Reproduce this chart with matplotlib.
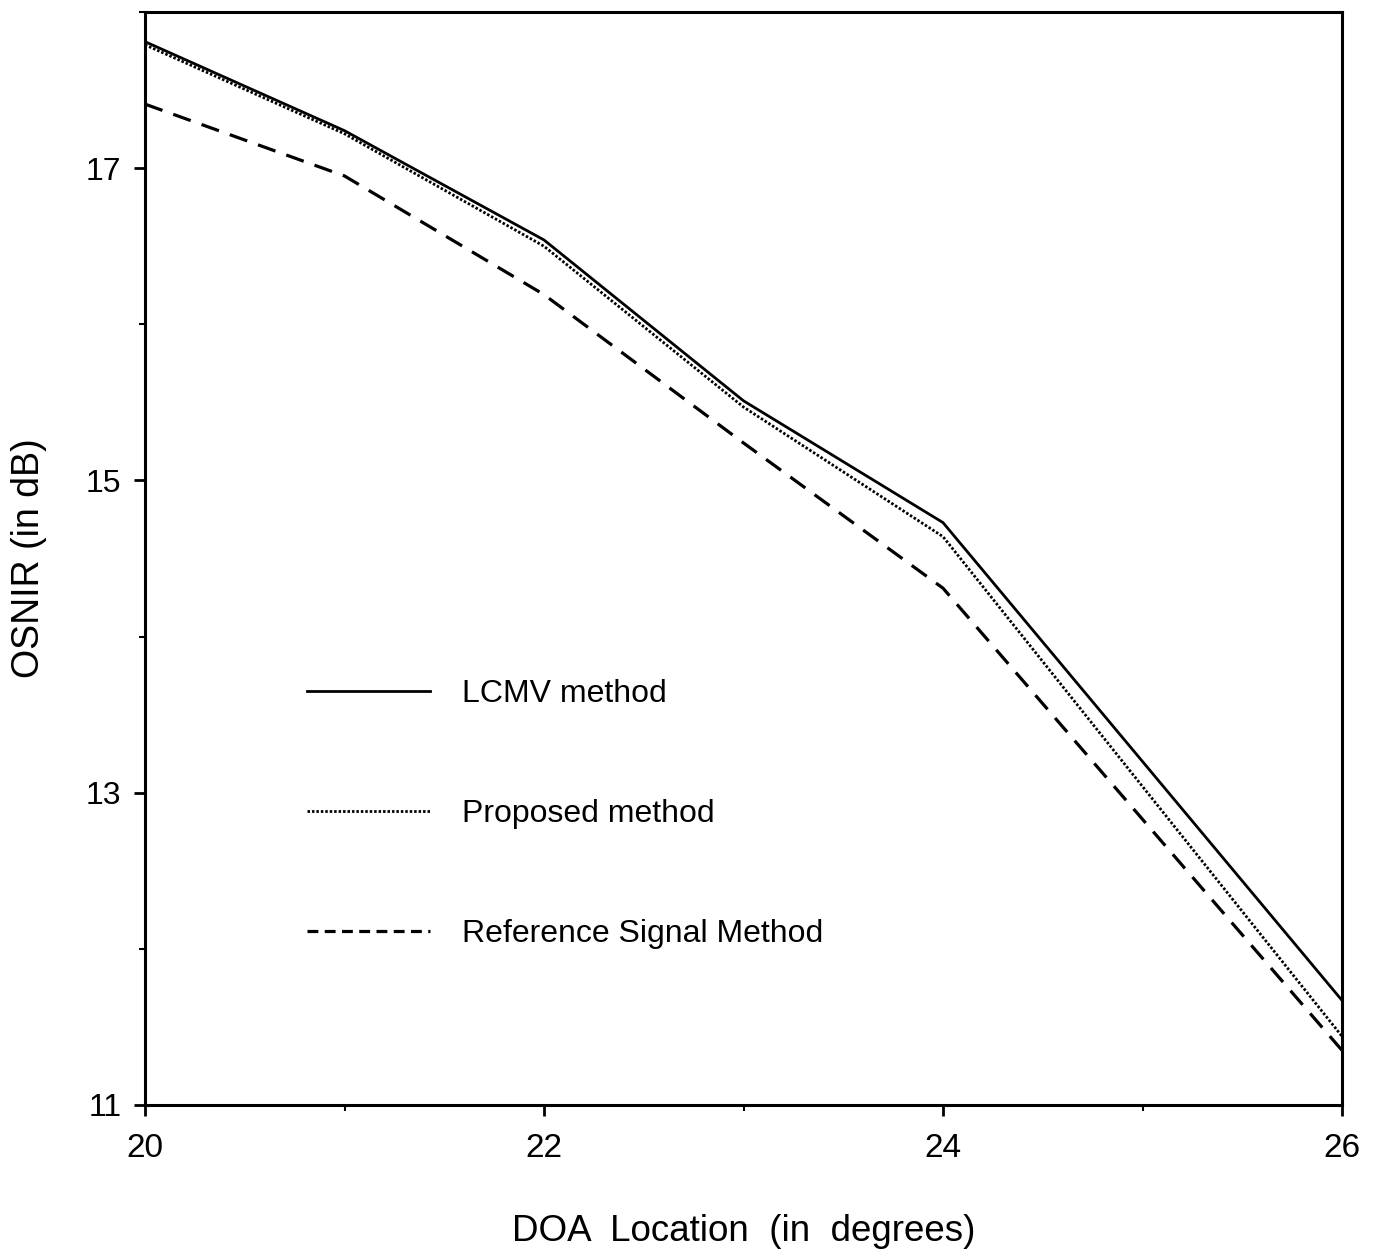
import matplotlib
matplotlib.use("Agg")
import matplotlib.pyplot as plt
from matplotlib.lines import Line2D
from matplotlib.ticker import MultipleLocator

plt.rcParams['font.family'] = ['Liberation Sans', 'DejaVu Sans']

# ---- data ----
doa = [20, 21, 22, 23, 24, 26]
lcmv = [17.81, 17.24, 16.54, 15.51, 14.73, 11.67]
proposed = [17.79, 17.22, 16.50, 15.47, 14.64, 11.44]
reference = [17.41, 16.95, 16.19, 15.24, 14.31, 11.35]

labels = ["LCMV method", "Proposed method", "Reference Signal Method"]
xticks = [20, 22, 24, 26]
yticks = [11, 13, 15, 17]

W, H = 1373, 1256
fig = plt.figure(figsize=(W / 100, H / 100), dpi=100)
ax = fig.add_axes([145 / W, 1 - 1105 / H, (1342 - 145) / W, (1105 - 12) / H])

ax.plot(doa, lcmv, color='black', lw=2.0, solid_joinstyle='miter')
ax.plot(doa, proposed, color='black', lw=2.0, linestyle=(0, (0.9, 0.7)))
ax.plot(doa, reference, color='black', lw=2.3, linestyle=(0, (5.8, 3.6)))

ax.set_xlim(20, 26)
ax.set_ylim(11, 18.0)
ax.set_xticks(xticks)
ax.set_yticks(yticks)
ax.xaxis.set_minor_locator(MultipleLocator(1))
ax.yaxis.set_minor_locator(MultipleLocator(1))
ax.tick_params(axis='both', which='major', direction='out', length=8, width=2,
               labelsize=23, pad=9)
ax.tick_params(axis='x', which='major', labelsize=24, pad=12)
ax.tick_params(axis='both', which='minor', direction='out', length=4, width=1.5)
ax.tick_params(top=False, right=False, which='both')
for sp in ax.spines.values():
    sp.set_linewidth(2.2)

ax.set_xlabel("DOA  Location  (in  degrees)", fontsize=26.5, labelpad=36)
ax.set_ylabel("OSNIR (in dB)", fontsize=27, labelpad=28)

handles = [
    Line2D([], [], color='black', lw=2.0),
    Line2D([], [], color='black', lw=2.0, linestyle=(0, (0.9, 0.7))),
    Line2D([], [], color='black', lw=2.3, linestyle=(0, (3.4, 2.0))),
]
leg = ax.legend(handles, labels, loc='upper left',
                bbox_to_anchor=(307 / W, 1 - 679 / H), bbox_transform=fig.transFigure,
                frameon=False, fontsize=23, handlelength=3.85, handletextpad=1.0,
                labelspacing=2.82, borderpad=0, borderaxespad=0)

fig.savefig("out.png", dpi=100, facecolor='white')
